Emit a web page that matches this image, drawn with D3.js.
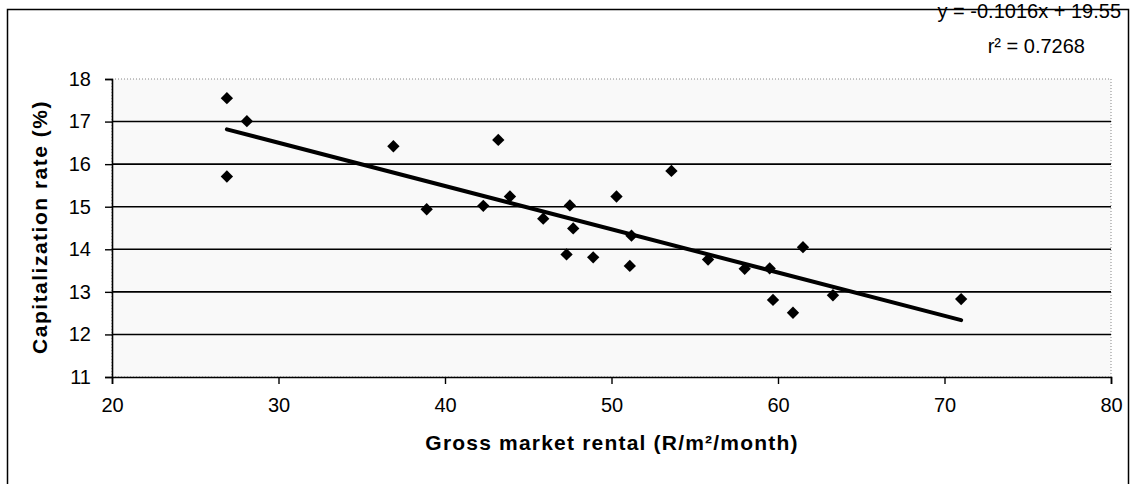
<!DOCTYPE html>
<html>
<head>
<meta charset="utf-8">
<script src="https://cdn.jsdelivr.net/npm/d3@7/dist/d3.min.js"></script>
<style>
  html, body { margin: 0; padding: 0; background: #fff; }
  svg { display: block; font-family: "Liberation Sans", Arial, sans-serif; }
</style>
</head>
<body>
<svg id="chart" width="1133" height="484"></svg>
<script>
// Gross market rental (R/m²/month) against capitalization rate (%)
const rental  = [26.9, 26.9, 28.1, 36.9, 38.9, 42.3, 43.2, 43.9, 45.9, 47.3, 47.5, 47.7, 48.9,
                 50.3, 51.1, 51.2, 53.6, 55.8, 58.0, 59.5, 59.7, 60.9, 61.5, 63.3, 71.0];
const capRate = [17.55, 15.71, 17.01, 16.42, 14.94, 15.02, 16.57, 15.24, 14.72, 13.88, 15.03, 14.49, 13.81,
                 15.24, 13.61, 14.32, 15.84, 13.76, 13.54, 13.55, 12.81, 12.51, 14.05, 12.92, 12.83];

// Linear trend line
const slope = -0.1016;
const intercept = 19.55;
const rSquared = 0.7268;

const xTicks = [20, 30, 40, 50, 60, 70, 80];
const yTicks = [11, 12, 13, 14, 15, 16, 17, 18];
const yGrid  = [12, 13, 14, 15, 16, 17];

const xTitle = "Gross market rental (R/m²/month)";
const yTitle = "Capitalization rate (%)";

const svg = d3.select("#chart");
const plot = { left: 112, right: 1111, top: 79, bottom: 377 };

const x = d3.scaleLinear().domain([20, 80]).range([plot.left, plot.right]);
const y = d3.scaleLinear().domain([11, 18]).range([plot.bottom, plot.top]);

// outer chart frame
svg.append("rect")
  .attr("x", 7.5).attr("y", 9.5)
  .attr("width", 1121).attr("height", 490)
  .attr("fill", "#fff").attr("stroke", "#000").attr("stroke-width", 1.5);

// plot area
svg.append("rect")
  .attr("x", plot.left).attr("y", plot.top)
  .attr("width", plot.right - plot.left).attr("height", plot.bottom - plot.top)
  .attr("fill", "#f9f9f9")
  .attr("stroke", "#888").attr("stroke-width", 1).attr("stroke-dasharray", "1,2");

// horizontal gridlines
svg.append("g").selectAll("line").data(yGrid).join("line")
  .attr("x1", plot.left).attr("x2", plot.right)
  .attr("y1", d => y(d)).attr("y2", d => y(d))
  .attr("stroke", "#000").attr("stroke-width", 1.6);

// axes
const xAxis = svg.append("g")
  .attr("transform", `translate(0,${plot.bottom})`)
  .call(d3.axisBottom(x).tickValues(xTicks).tickSize(7).tickPadding(14).tickFormat(d3.format("d")));
const yAxis = svg.append("g")
  .attr("transform", `translate(${plot.left},0)`)
  .call(d3.axisLeft(y).tickValues(yTicks).tickSize(7).tickPadding(14).tickFormat(d3.format("d")));

[xAxis, yAxis].forEach(g => {
  g.select(".domain").attr("stroke", "#000").attr("stroke-width", 1.6);
  g.selectAll(".tick line").attr("stroke", "#000").attr("stroke-width", 1.4);
  g.selectAll(".tick text")
    .attr("fill", "#000")
    .style("font-size", "20px")
    .style("font-family", "'Liberation Sans', Arial, sans-serif");
});

// trend line across the data range
const [xMin, xMax] = d3.extent(rental);
svg.append("line")
  .attr("x1", x(xMin)).attr("y1", y(slope * xMin + intercept))
  .attr("x2", x(xMax)).attr("y2", y(slope * xMax + intercept))
  .attr("stroke", "#000").attr("stroke-width", 4).attr("stroke-linecap", "round");

// diamond markers
const diamond = d3.symbol().type(d3.symbolSquare).size(76);
svg.append("g").selectAll("path").data(rental.map((r, i) => [r, capRate[i]])).join("path")
  .attr("d", diamond)
  .attr("transform", d => `translate(${x(d[0])},${y(d[1])}) rotate(45)`)
  .attr("fill", "#000");

// trend equation
svg.append("text")
  .attr("x", 1121).attr("y", 18)
  .attr("text-anchor", "end")
  .style("font-size", "20px")
  .text(`y = ${slope}x + ${intercept}`);
svg.append("text")
  .attr("x", 1085).attr("y", 53)
  .attr("text-anchor", "end")
  .style("font-size", "20px")
  .text(`r² = ${rSquared}`);

// axis titles
svg.append("text")
  .attr("x", 612).attr("y", 450)
  .attr("text-anchor", "middle")
  .style("font-size", "21px").style("font-weight", "bold").style("letter-spacing", "1.2px")
  .text(xTitle);
svg.append("text")
  .attr("transform", "translate(47,227) rotate(-90)")
  .attr("text-anchor", "middle")
  .style("font-size", "21px").style("font-weight", "bold").style("letter-spacing", "1.5px")
  .text(yTitle);
</script>
</body>
</html>
